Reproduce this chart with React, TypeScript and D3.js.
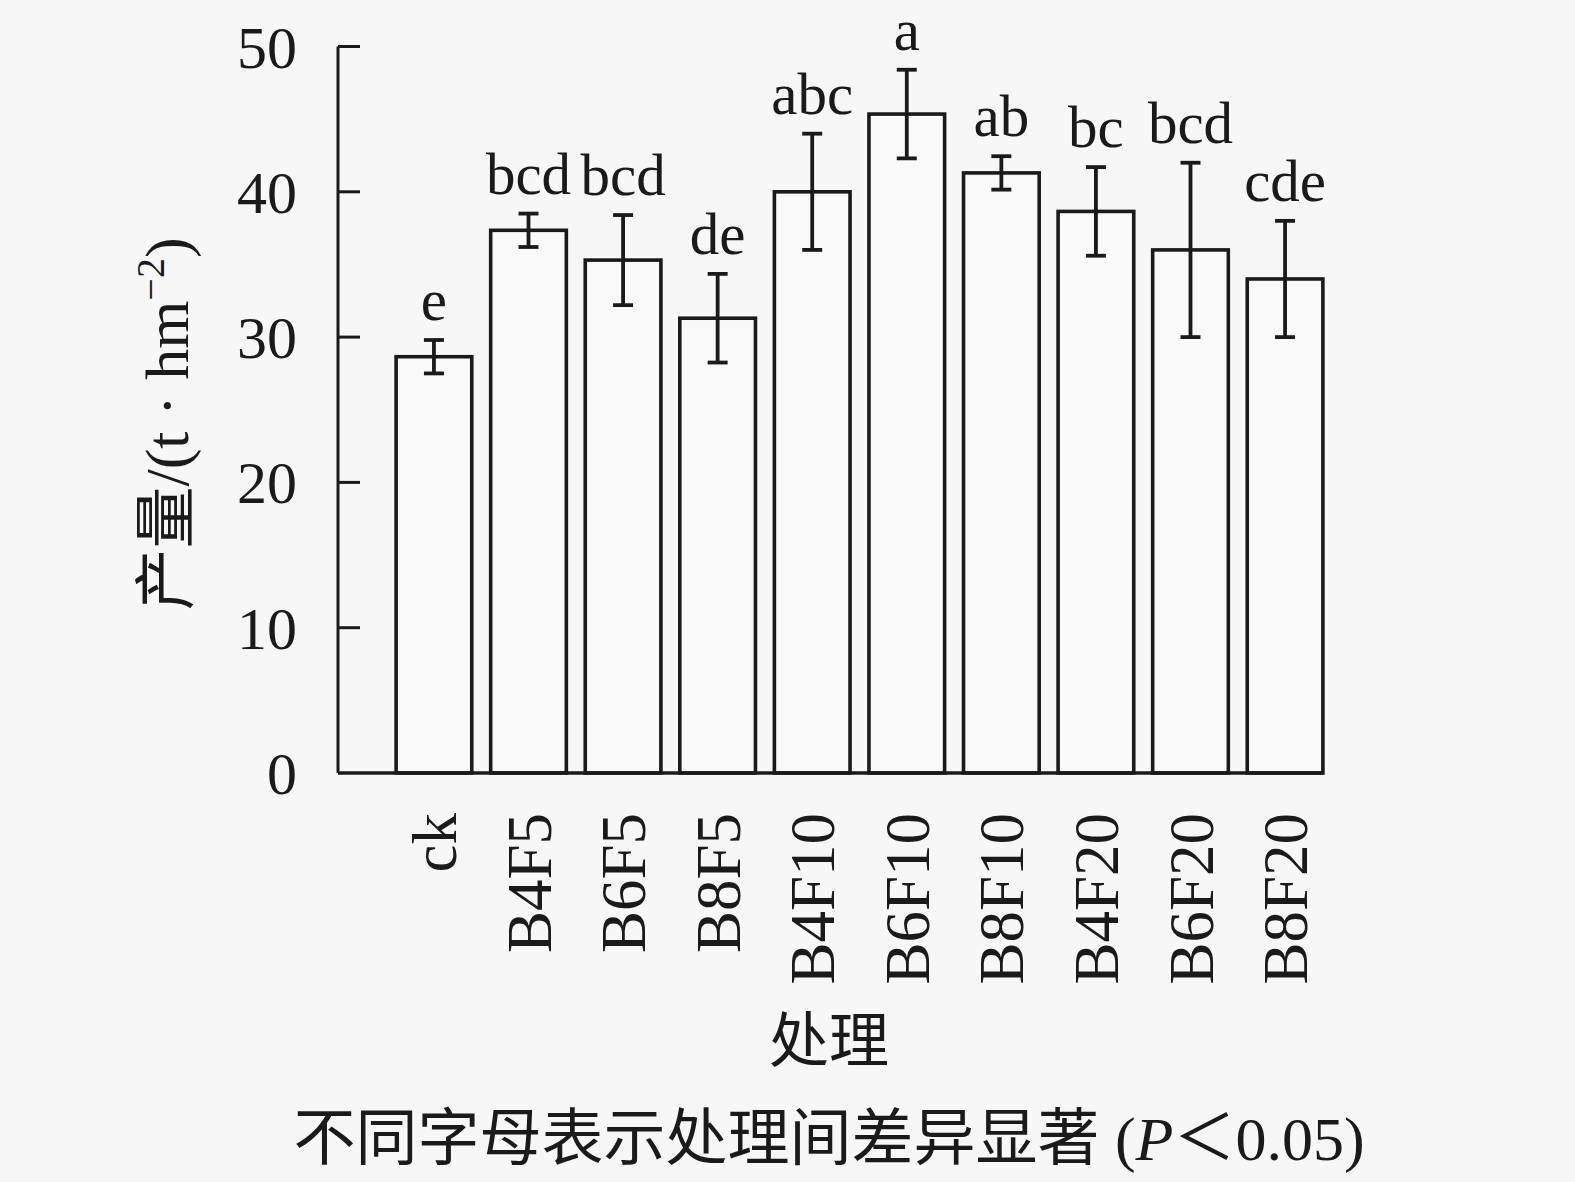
import React from "react";
import * as d3 from "d3";

const categories = ["ck", "B4F5", "B6F5", "B8F5", "B4F10", "B6F10", "B8F10", "B4F20", "B6F20", "B8F20"];
const yields = [28.65, 37.35, 35.3, 31.3, 40.0, 45.35, 41.3, 38.65, 36.0, 34.0];
const errors = [1.15, 1.15, 3.1, 3.05, 4.0, 3.05, 1.15, 3.05, 6.0, 4.0];
const sigLetters = ["e", "bcd", "bcd", "de", "abc", "a", "ab", "bc", "bcd", "cde"];
const yTicks = [0, 10, 20, 30, 40, 50];

const W = 1575;
const H = 1182;
const axisX = 338;
const y0 = 773;
const y50 = 46.5;
const SERIF = "'Liberation Serif', 'Times New Roman', 'Noto Sans CJK SC', serif";
const INK = "#1a1a1a";

export default function App() {
  const x = d3
    .scaleBand<string>()
    .domain(categories)
    .range([386.65, 1332.35])
    .paddingInner(0.2)
    .paddingOuter(0.1);
  const y = d3.scaleLinear().domain([0, 50]).range([y0, y50]);
  const bw = x.bandwidth();
  const lastRight = (x(categories[categories.length - 1]) as number) + bw;
  const capW = 20;

  return (
    <div style={{ position: "absolute", left: 0, top: 0 }}>
      <svg width={W} height={H} style={{ display: "block" }} fontFamily={SERIF}>
        <rect x={0} y={0} width={W} height={H} fill="#f7f7f7" />
        {/* bars */}
        {categories.map((c, i) => (
          <rect
            key={c}
            x={x(c)}
            y={y(yields[i])}
            width={bw}
            height={y(0) - y(yields[i])}
            fill="#f9f9f9"
            stroke={INK}
            strokeWidth={3.6}
          />
        ))}
        {/* error bars */}
        {categories.map((c, i) => {
          const cx = (x(c) as number) + bw / 2;
          const top = y(yields[i] + errors[i]);
          const bot = y(yields[i] - errors[i]);
          return (
            <g key={c + "e"} stroke={INK} strokeWidth={3.8}>
              <line x1={cx} x2={cx} y1={top} y2={bot} />
              <line x1={cx - capW / 2} x2={cx + capW / 2} y1={top} y2={top} />
              <line x1={cx - capW / 2} x2={cx + capW / 2} y1={bot} y2={bot} />
            </g>
          );
        })}
        {/* significance letters */}
        {categories.map((c, i) => (
          <text
            key={c + "l"}
            x={(x(c) as number) + bw / 2}
            y={y(yields[i] + errors[i]) - 20}
            textAnchor="middle"
            fontSize={59}
            fill={INK}
          >
            {sigLetters[i]}
          </text>
        ))}
        {/* axes */}
        <line x1={axisX} x2={axisX} y1={y(50)} y2={y(0)} stroke={INK} strokeWidth={3} />
        <line x1={axisX} x2={lastRight} y1={y(0)} y2={y(0)} stroke={INK} strokeWidth={3.6} />
        {yTicks.map((t) => (
          <g key={t}>
            {t > 0 && (
              <line x1={axisX} x2={axisX + 22} y1={y(t)} y2={y(t)} stroke={INK} strokeWidth={3} />
            )}
            <text
              x={297}
              y={y(t)}
              dy="0.35em"
              textAnchor="end"
              fontSize={60}
              fill={INK}
            >
              {t}
            </text>
          </g>
        ))}
        {/* x tick labels */}
        {categories.map((c) => {
          const cx = (x(c) as number) + bw / 2;
          return (
            <text
              key={c + "x"}
              transform={`translate(${cx},813) rotate(-90)`}
              dy="0.35em"
              textAnchor="end"
              fontSize={63}
              fill={INK}
            >
              {c}
            </text>
          );
        })}
        {/* y axis title */}
        <text
          transform={`translate(166,424) rotate(-90)`}
          textAnchor="middle"
          dy="0.35em"
          fontSize={62}
          fill={INK}
        >
          产量/(t · hm
          <tspan fontSize={40} dy={-24}>−2</tspan>
          <tspan dy={24}>)</tspan>
        </text>
        {/* x axis title */}
        <text x={829} y={1062} textAnchor="middle" fontSize={60} fill={INK}>
          处理
        </text>
        {/* note */}
        <text x={829} y={1160} textAnchor="middle" fontSize={62} fill={INK}>
          不同字母表示处理间差异显著 (<tspan fontStyle="italic">P</tspan>＜0.05)
        </text>
      </svg>
    </div>
  );
}
